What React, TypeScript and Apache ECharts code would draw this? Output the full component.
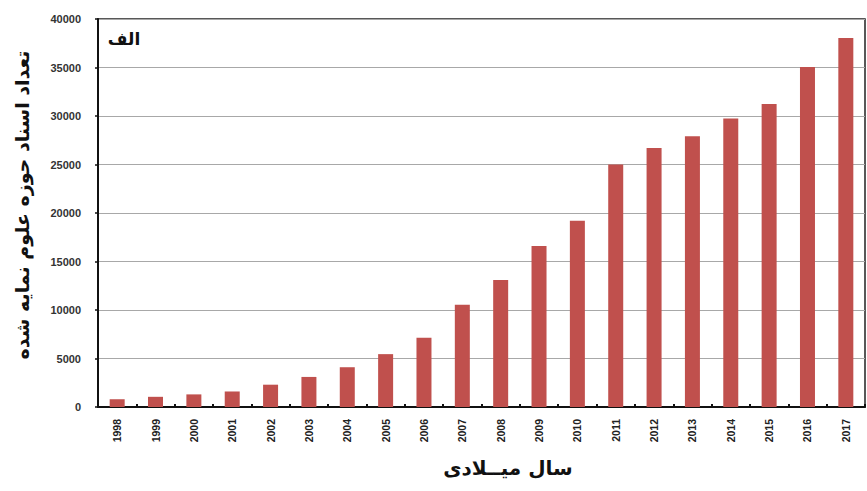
import React, { useEffect, useRef } from "react";
import * as echarts from "echarts";

const years = ["1998","1999","2000","2001","2002","2003","2004","2005","2006","2007","2008","2009","2010","2011","2012","2013","2014","2015","2016","2017"];
const docCounts = [800, 1050, 1300, 1600, 2300, 3100, 4100, 5450, 7150, 10550, 13100, 16600, 19200, 25000, 26700, 27900, 29750, 31250, 35050, 38050];
const yTicks = { min: 0, max: 40000, interval: 5000 };
const yAxisTitle = "تعداد اسناد حوزه علوم نمایه شده";
const xAxisTitle = "سال میــلادی";
const panelLabel = "الف";

export default function App() {
  const ref = useRef<HTMLDivElement>(null);
  useEffect(() => {
    if (!ref.current) return;
    const chart = echarts.init(ref.current, null, { renderer: "svg" });
    chart.setOption({
      animation: false,
      backgroundColor: "#ffffff",
      grid: { left: 98, right: 2, top: 19, bottom: 84, show: true, borderColor: "#222", borderWidth: 1.5, backgroundColor: "transparent" },
      xAxis: {
        type: "category",
        data: years,
        axisLine: { lineStyle: { color: "#111", width: 2 } },
        axisTick: { show: true, inside: true, length: 3, lineStyle: { color: "#111", width: 2 } },
        axisLabel: { rotate: 90, fontFamily: "Liberation Sans, Arial", fontWeight: "bold", fontSize: 10.5, color: "#222", margin: 12 },
      },
      yAxis: {
        type: "value",
        min: yTicks.min,
        max: yTicks.max,
        interval: yTicks.interval,
        axisLine: { show: true, lineStyle: { color: "#111", width: 2 } },
        axisTick: { show: true, length: 3, lineStyle: { color: "#111", width: 1.5 } },
        axisLabel: { formatter: (v: number) => String(v), fontFamily: "Liberation Sans, Arial", fontWeight: "bold", fontSize: 11, color: "#333", margin: 17 },
        splitLine: { lineStyle: { color: "#a8a8a8", width: 1.2 } },
      },
      series: [
        {
          type: "bar",
          data: docCounts,
          barWidth: 15,
          itemStyle: { color: "#C0504D" },
        },
      ],
      graphic: [
        {
          type: "text",
          x: 22,
          y: 205,
          rotation: Math.PI / 2,
          style: { text: yAxisTitle, fontFamily: "DejaVu Sans, Noto Sans", fontWeight: "bold", fontSize: 19, fill: "#111", align: "center", verticalAlign: "middle" },
        },
        {
          type: "text",
          x: 508,
          y: 468,
          style: { text: xAxisTitle, fontFamily: "DejaVu Sans, Noto Sans", fontWeight: "bold", fontSize: 20, fill: "#111", align: "center", verticalAlign: "middle" },
        },
        {
          type: "text",
          x: 124,
          y: 39,
          style: { text: panelLabel, fontFamily: "DejaVu Sans, Noto Sans", fontWeight: "bold", fontSize: 17, fill: "#111", align: "center", verticalAlign: "middle" },
        },
      ],
    });
    return () => chart.dispose();
  }, []);
  return <div ref={ref} style={{ width: 867, height: 491, position: "absolute", left: 0, top: 0 }} />;
}
